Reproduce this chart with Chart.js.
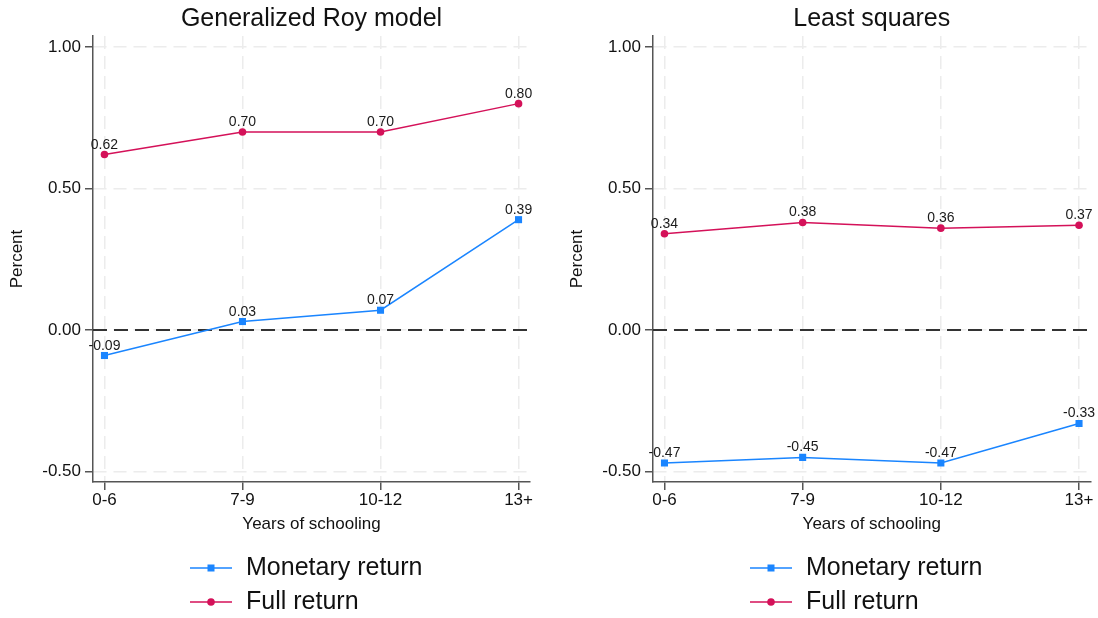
<!DOCTYPE html>
<html>
<head>
<meta charset="utf-8">
<script src="https://cdn.jsdelivr.net/npm/chart.js@4/dist/chart.umd.min.js"></script>
<style>
  html, body { margin: 0; padding: 0; background: #ffffff; }
  #wrap { position: relative; width: 1098px; height: 618px; overflow: hidden; }
  .panel { position: absolute; top: 0; }
</style>
</head>
<body>
<div id="wrap">
  <div class="panel" style="left:0px"><canvas id="roy" width="560" height="618"></canvas></div>
  <div class="panel" style="left:560px"><canvas id="ols" width="538" height="618"></canvas></div>
</div>
<script>
// Schooling groups on the horizontal axis
const categories = ['0-6', '7-9', '10-12', '13+'];

// Generalized Roy model estimates
const royMonetary = [-0.09, 0.03, 0.07, 0.39];
const royFull = [0.62, 0.70, 0.70, 0.80];

// Least squares estimates
const olsMonetary = [-0.47, -0.45, -0.47, -0.33];
const olsFull = [0.34, 0.38, 0.36, 0.37];

// Vertical axis ticks
const yTicks = [-0.5, 0, 0.5, 1];

const seriesNames = ['Monetary return', 'Full return'];
const BLUE = '#1a85ff';
const RED = '#d41159';
const FONT = '"Liberation Sans", Arial, Helvetica, sans-serif';

Chart.defaults.font.family = FONT;
Chart.defaults.color = '#111111';

const toPoints = arr => arr.map((v, i) => ({ x: i, y: v }));

// Dashed reference line at zero
const zeroLine = {
  id: 'zeroLine',
  beforeDatasetsDraw(chart) {
    const { ctx, chartArea, scales } = chart;
    const y = scales.y.getPixelForValue(0);
    ctx.save();
    ctx.strokeStyle = '#333333';
    ctx.lineWidth = 2;
    ctx.setLineDash([14, 7]);
    ctx.beginPath();
    ctx.moveTo(chartArea.left, y);
    ctx.lineTo(chartArea.right, y);
    ctx.stroke();
    ctx.restore();
  }
};

// Value labels above each marker
const valueLabels = {
  id: 'valueLabels',
  afterDatasetsDraw(chart) {
    const { ctx } = chart;
    ctx.save();
    ctx.font = '14px ' + FONT;
    ctx.fillStyle = '#1a1a1a';
    ctx.textAlign = 'center';
    ctx.textBaseline = 'alphabetic';
    chart.data.datasets.forEach((ds, di) => {
      const meta = chart.getDatasetMeta(di);
      meta.data.forEach((pt, i) => {
        ctx.fillText(ds.data[i].y.toFixed(2), pt.x, pt.y - 6);
      });
    });
    ctx.restore();
  }
};

// Two-row key below the x axis title
const keyBelow = {
  id: 'keyBelow',
  afterDraw(chart) {
    const { ctx, chartArea } = chart;
    const x0 = chartArea.left + 97;
    const rows = [568, 602];
    ctx.save();
    chart.data.datasets.forEach((ds, i) => {
      const y = rows[i];
      ctx.strokeStyle = ds.borderColor;
      ctx.lineWidth = 1.5;
      ctx.beginPath();
      ctx.moveTo(x0, y);
      ctx.lineTo(x0 + 42, y);
      ctx.stroke();
      ctx.fillStyle = ds.borderColor;
      if (ds.pointStyle === 'rect') {
        ctx.fillRect(x0 + 21 - 3.5, y - 3.5, 7, 7);
      } else {
        ctx.beginPath();
        ctx.arc(x0 + 21, y, 3.8, 0, Math.PI * 2);
        ctx.fill();
      }
      ctx.fillStyle = '#111111';
      ctx.font = '25px ' + FONT;
      ctx.textAlign = 'left';
      ctx.textBaseline = 'middle';
      ctx.fillText(ds.label, x0 + 56, y);
    });
    ctx.restore();
  }
};

function makePanel(id, title, monetary, full, padRight) {
  return new Chart(document.getElementById(id), {
    type: 'line',
    data: {
      datasets: [
        {
          label: seriesNames[0],
          data: toPoints(monetary),
          borderColor: BLUE,
          backgroundColor: BLUE,
          borderWidth: 1.5,
          pointStyle: 'rect',
          pointRadius: 5,
          pointBorderWidth: 0,
          tension: 0
        },
        {
          label: seriesNames[1],
          data: toPoints(full),
          borderColor: RED,
          backgroundColor: RED,
          borderWidth: 1.5,
          pointStyle: 'circle',
          pointRadius: 3.8,
          pointBorderWidth: 0,
          tension: 0
        }
      ]
    },
    options: {
      responsive: false,
      animation: false,
      layout: { padding: { left: 0, right: padRight, top: 0, bottom: 80 } },
      plugins: {
        legend: { display: false },
        tooltip: { enabled: false },
        title: {
          display: true,
          text: title,
          fullSize: false,
          color: '#111111',
          font: { size: 25, weight: 'normal' },
          padding: { top: 4, bottom: 2 }
        }
      },
      scales: {
        x: {
          type: 'linear',
          min: -0.083,
          max: 3.083,
          afterBuildTicks: s => { s.ticks = categories.map((_, i) => ({ value: i })); },
          afterFit: s => { s.height = 56; },
          ticks: {
            callback: v => categories[v],
            font: { size: 17 },
            color: '#111111',
            padding: 0,
            maxRotation: 0,
            autoSkip: false
          },
          grid: {
            color: '#ececec',
            lineWidth: 1.5,
            tickColor: '#555555',
            tickLength: 8,
            tickWidth: 1.5,
            tickBorderDash: []
          },
          border: { display: true, color: '#555555', width: 1.5, dash: [13, 7] },
          title: {
            display: true,
            text: 'Years of schooling',
            font: { size: 17 },
            color: '#111111',
            padding: { top: 0, bottom: 3 }
          }
        },
        y: {
          type: 'linear',
          min: -0.537,
          max: 1.039,
          afterBuildTicks: s => { s.ticks = yTicks.map(v => ({ value: v })); },
          afterFit: s => { s.width = 93; },
          ticks: {
            callback: v => v.toFixed(2),
            font: { size: 17 },
            color: '#111111',
            padding: 4
          },
          grid: {
            color: '#ececec',
            lineWidth: 1.5,
            tickColor: '#555555',
            tickLength: 8,
            tickWidth: 1.5,
            tickBorderDash: []
          },
          border: { display: true, color: '#555555', width: 1.5, dash: [13, 7] },
          title: {
            display: true,
            text: 'Percent',
            font: { size: 17 },
            color: '#111111',
            padding: { top: 7, bottom: 0 }
          }
        }
      }
    },
    plugins: [zeroLine, valueLabels, keyBelow]
  });
}

makePanel('roy', 'Generalized Roy model', royMonetary, royFull, 30);
makePanel('ols', 'Least squares', olsMonetary, olsFull, 7.5);
</script>
</body>
</html>
